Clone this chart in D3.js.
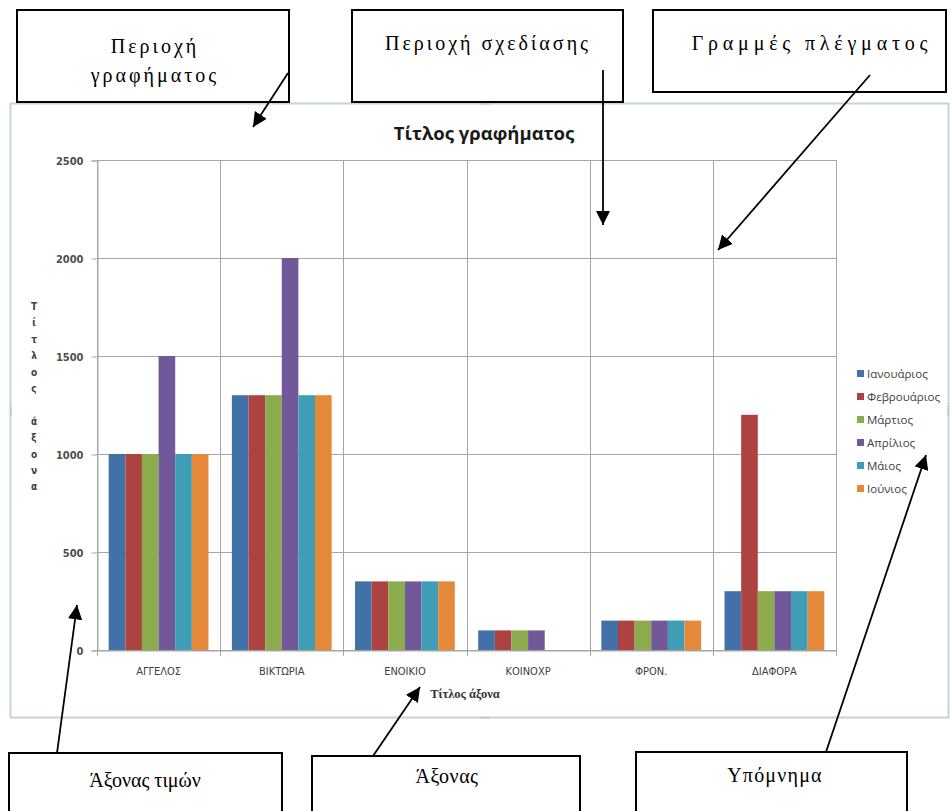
<!DOCTYPE html>
<html>
<head>
<meta charset="utf-8">
<script src="https://cdn.jsdelivr.net/npm/d3@7"></script>
<style>
  body { margin: 0; background: #fff; }
  svg { display: block; }
</style>
</head>
<body>
<div id="chart"></div>
<script>
// data
var categories = ["ΑΓΓΕΛΟΣ", "ΒΙΚΤΩΡΙΑ", "ΕΝΟΙΚΙΟ", "ΚΟΙΝΟΧΡ", "ΦΡΟΝ.", "ΔΙΑΦΟΡΑ"];
var months = ["Ιανουάριος", "Φεβρουάριος", "Μάρτιος", "Απρίλιος", "Μάιος", "Ιούνιος"];
var janVals = [1000, 1300, 350, 100, 150, 300];
var febVals = [1000, 1300, 350, 100, 150, 1200];
var marVals = [1000, 1300, 350, 100, 150, 300];
var aprVals = [1500, 2000, 350, 100, 150, 300];
var mayVals = [1000, 1300, 350, 0, 150, 300];
var junVals = [1000, 1300, 350, 0, 150, 300];
var yTicks = [0, 500, 1000, 1500, 2000, 2500];
var colors = ["#4171a8", "#ad4340", "#8cab4d", "#715898", "#409db6", "#e4893a"];

var chartTitle = "Τίτλος γραφήματος";
var xTitle = "Τίτλος άξονα";
var yTitle = "Τίτλος άξονα";

// annotation boxes around the chart: text lines, box corners, text centre, first baseline, letter spacing
var callouts = [
    { lines: ["Περιοχή", "γραφήματος"], box: [17, 10, 289, 102], cx: 155, base: 53, ls: 3 },
    { lines: ["Περιοχή σχεδίασης"], box: [352, 10, 623, 102], cx: 488, base: 50, ls: 3 },
    { lines: ["Γραμμές πλέγματος"], box: [653, 10, 946, 92], cx: 812, base: 50, ls: 4.8 },
    { lines: ["Άξονας τιμών"], box: [9, 753, 282, 830], cx: 145, base: 787, ls: 0 },
    { lines: ["Άξονας"], box: [312, 756, 580, 830], cx: 447, base: 783, ls: 0.5 },
    { lines: ["Υπόμνημα"], box: [636, 752, 907, 830], cx: 775, base: 782, ls: 1.2 }
];
var arrows = [
    [[288, 73], [253, 127]],
    [[603, 70], [603, 225]],
    [[870, 75], [718, 250]],
    [[57, 753], [77, 605]],
    [[373, 756], [420, 687]],
    [[826, 752], [926, 455]]
];

var width = 952, height = 811;
var plot = { left: 97, right: 836, top: 160, bottom: 650 };
var chartFont = "'Liberation Sans Narrow', 'DejaVu Sans Condensed', sans-serif";
var boxFont = "'Liberation Serif', 'DejaVu Serif', serif";

function translate(x, y){
    return "translate(" + x + "," + y + ")";
}

var series = [janVals, febVals, marVals, aprVals, mayVals, junVals];
var rows = categories.map(function(c, i){
    return { cat: c, vals: series.map(function(s){ return s[i]; }) };
});

var svg = d3.select("#chart").append("svg")
    .attr("width", width)
    .attr("height", height);

// chart area frame
svg.append("rect")
    .attr("x", 10.5).attr("y", 103.5)
    .attr("width", 938).attr("height", 614)
    .attr("fill", "#fff")
    .attr("stroke", "#c5d3dc")
    .attr("stroke-width", 2);

// little resize handles on the frame
[[484, 104], [484, 718], [11, 410], [948, 410]].forEach(function(p){
    var vertical = p[0] < 20 || p[0] > 940;
    for(var k = -2; k <= 2; k++){
        svg.append("rect")
            .attr("x", vertical ? p[0] - 0.5 : p[0] + k * 2)
            .attr("y", vertical ? p[1] + k * 2 : p[1] - 0.5)
            .attr("width", 1).attr("height", 1)
            .attr("fill", "#9aa6ae");
    }
});

var xScale = d3.scaleBand()
    .domain(categories)
    .range([plot.left, plot.right])
    .padding(0);

var innerPad = xScale.bandwidth() * 0.095;
var x1 = d3.scaleBand()
    .domain(d3.range(months.length))
    .range([innerPad, xScale.bandwidth() - innerPad])
    .padding(0);

var yScale = d3.scaleLinear()
    .domain([0, 2500])
    .range([plot.bottom, plot.top]);

var g = svg.append("g");

// horizontal gridlines
g.selectAll(".hgrid")
    .data(yTicks)
    .enter().append("line")
    .attr("class", "hgrid")
    .attr("x1", plot.left).attr("x2", plot.right)
    .attr("y1", function(d){ return Math.round(yScale(d)) + 0.5; })
    .attr("y2", function(d){ return Math.round(yScale(d)) + 0.5; })
    .attr("stroke", "#a6a6a6");

// vertical gridlines at category boundaries
var bounds = categories.map(function(c){ return xScale(c); }).concat([plot.right]);
g.selectAll(".vgrid")
    .data(bounds)
    .enter().append("line")
    .attr("class", "vgrid")
    .attr("x1", function(d){ return Math.round(d) + 0.5; })
    .attr("x2", function(d){ return Math.round(d) + 0.5; })
    .attr("y1", plot.top).attr("y2", plot.bottom + 6)
    .attr("stroke", "#a6a6a6");

// bars
var groups = g.selectAll(".cat")
    .data(rows)
    .enter().append("g")
    .attr("class", "cat")
    .attr("transform", function(d){ return translate(xScale(d.cat), 0); });

groups.selectAll("rect")
    .data(function(d){ return d.vals; })
    .enter().append("rect")
    .attr("x", function(d, i){ return x1(i); })
    .attr("width", x1.bandwidth())
    .attr("y", function(d){ return yScale(d); })
    .attr("height", function(d){ return plot.bottom - yScale(d); })
    .attr("fill", function(d, i){ return colors[i]; });

// y axis
var yAxis = d3.axisLeft(yScale)
    .tickValues(yTicks)
    .tickFormat(d3.format("d"))
    .tickSize(6)
    .tickPadding(8);
var yAxisG = g.append("g")
    .attr("transform", translate(plot.left + 0.5, 0.5))
    .call(yAxis);
yAxisG.select(".domain").attr("stroke", "#a6a6a6");
yAxisG.selectAll(".tick line").attr("stroke", "#a6a6a6");
yAxisG.selectAll(".tick text")
    .attr("fill", "#4d4d4d")
    .style("font-family", chartFont)
    .style("font-size", "11px")
    .style("font-weight", "bold");

// x axis labels
var xAxis = d3.axisBottom(xScale).tickSize(0).tickPadding(17);
var xAxisG = g.append("g")
    .attr("transform", translate(0, plot.bottom + 0.5))
    .call(xAxis);
xAxisG.select(".domain").attr("stroke", "#a6a6a6");
xAxisG.selectAll(".tick text")
    .attr("fill", "#404040")
    .style("font-family", chartFont)
    .style("font-size", "11px");

// titles
svg.append("text")
    .attr("x", 484).attr("y", 140)
    .attr("text-anchor", "middle")
    .style("font-family", "'Open Sans', sans-serif")
    .style("font-size", "18.5px")
    .style("font-weight", "bold")
    .attr("fill", "#1a1a1a")
    .text(chartTitle);

svg.append("text")
    .attr("x", 465).attr("y", 698)
    .attr("text-anchor", "middle")
    .style("font-family", "'Liberation Serif', serif")
    .style("font-size", "12.5px")
    .style("font-weight", "bold")
    .attr("fill", "#333")
    .text(xTitle);

// y axis title, one letter per line like the original
var yLetters = yTitle.split("");
svg.append("g")
    .selectAll("text")
    .data(yLetters)
    .enter().append("text")
    .attr("x", 34)
    .attr("y", function(d, i){ return 310 + i * 16.4; })
    .attr("text-anchor", "middle")
    .style("font-family", chartFont)
    .style("font-size", "10px")
    .style("font-weight", "bold")
    .attr("fill", "#404040")
    .text(function(d){ return d; });

// legend
var legend = svg.append("g")
    .attr("transform", translate(857, 374));
var items = legend.selectAll(".item")
    .data(months)
    .enter().append("g")
    .attr("class", "item")
    .attr("transform", function(d, i){ return translate(0, i * 23); });
items.append("rect")
    .attr("x", 0).attr("y", -4)
    .attr("width", 7).attr("height", 7)
    .attr("fill", function(d, i){ return colors[i]; });
items.append("text")
    .attr("x", 10).attr("y", 3.5)
    .style("font-family", "'Open Sans', sans-serif")
    .style("font-size", "11.5px")
    .attr("fill", "#404040")
    .text(function(d){ return d; });

// callout boxes
var boxes = svg.selectAll(".callout")
    .data(callouts)
    .enter().append("g")
    .attr("class", "callout");
boxes.append("rect")
    .attr("x", function(d){ return d.box[0]; })
    .attr("y", function(d){ return d.box[1]; })
    .attr("width", function(d){ return d.box[2] - d.box[0]; })
    .attr("height", function(d){ return d.box[3] - d.box[1]; })
    .attr("fill", "#fff")
    .attr("stroke", "#000")
    .attr("stroke-width", 2);
boxes.each(function(d){
    d3.select(this).selectAll("text")
        .data(d.lines)
        .enter().append("text")
        .attr("x", d.cx)
        .attr("y", function(t, i){ return d.base + i * 29; })
        .attr("text-anchor", "middle")
        .style("font-family", boxFont)
        .style("font-size", "20px")
        .style("letter-spacing", d.ls + "px")
        .attr("fill", "#000")
        .text(function(t){ return t; });
});

// arrows
var defs = svg.append("defs");
defs.append("marker")
    .attr("id", "head")
    .attr("viewBox", "0 0 10 10")
    .attr("refX", 10).attr("refY", 5)
    .attr("markerWidth", 8).attr("markerHeight", 8)
    .attr("markerUnits", "strokeWidth")
    .attr("orient", "auto")
    .append("path")
    .attr("d", "M0,0L10,5L0,10Z")
    .attr("fill", "#000");

svg.selectAll(".arrow")
    .data(arrows)
    .enter().append("line")
    .attr("class", "arrow")
    .attr("x1", function(d){ return d[0][0]; })
    .attr("y1", function(d){ return d[0][1]; })
    .attr("x2", function(d){ return d[1][0]; })
    .attr("y2", function(d){ return d[1][1]; })
    .attr("stroke", "#000")
    .attr("stroke-width", 1.8)
    .attr("marker-end", "url(#head)");
</script>
</body>
</html>
